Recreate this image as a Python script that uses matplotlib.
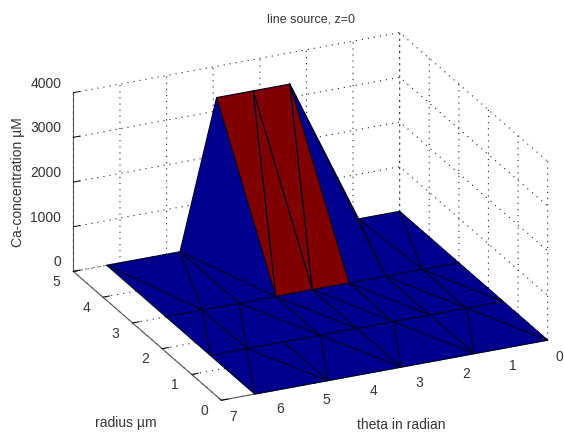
import numpy as np
import matplotlib
matplotlib.use('Agg')
import matplotlib.pyplot as plt
from mpl_toolkits.mplot3d import proj3d

plt.rcParams['font.family'] = ['Liberation Sans', 'DejaVu Sans']

# mesh nodes
# r=0 row, r=1.5 row, r=3 row, r=5 row
theta = [0.0, 1.571, 3.142, 4.712, 6.283,
         0.0, 0.785, 1.571, 2.356, 3.142, 3.927, 4.712, 5.498, 6.283,
         0.0, 0.785, 1.571, 2.356, 3.142, 3.927, 4.712, 5.498, 6.283,
         0.0, 0.88, 2.356, 3.142, 3.927, 4.712, 6.283]
radius = [0, 0, 0, 0, 0,
          1.5, 1.5, 1.5, 1.5, 1.5, 1.5, 1.5, 1.5, 1.5,
          3, 3, 3, 3, 3, 3, 3, 3, 3,
          5, 5, 5, 5, 5, 5, 5]
conc = [0, 0, 0, 0, 0,
        0, 0, 0, 0, 0, 0, 0, 0, 0,
        0, 0, 0, 0, 0, 0, 0, 0, 0,
        0, 0, 3300, 3300, 3300, 0, 0]

# triangles, node numbers
tris_floor = [
    (4, 13, 12), (4, 12, 3), (3, 12, 11), (3, 11, 10), (3, 10, 2),
    (2, 10, 9), (2, 9, 8), (2, 8, 1), (1, 8, 7), (1, 7, 6), (1, 6, 0), (0, 6, 5),
    (22, 21, 13), (21, 13, 12), (21, 20, 12), (20, 12, 10), (20, 19, 10),
    (19, 10, 9), (19, 18, 9), (18, 9, 8), (18, 17, 8), (17, 8, 7),
    (17, 16, 7), (16, 7, 6), (16, 15, 6), (15, 6, 5), (15, 14, 5),
    (29, 28, 21), (29, 21, 22), (28, 21, 20), (28, 20, 19),
    (24, 16, 15), (23, 24, 15), (23, 15, 14),
    (28, 19, 27), (25, 17, 16), (25, 16, 24),
]
tris_peak = [(19, 27, 26), (19, 26, 18), (18, 26, 25), (18, 25, 17)]

xticks = [0, 1, 2, 3, 4, 5, 6, 7]
yticks = [0, 1, 2, 3, 4, 5]
zticks = [0, 1000, 2000, 3000, 4000]

blue = '#00008f'
red = '#800000'
txt = '#333333'

fig = plt.figure(figsize=(5.64, 4.37), dpi=100)
ax = fig.add_axes([40.9 / 564, -49 / 437, 525 / 564, 525 / 437], projection='3d', proj_type='ortho')
ax.patch.set_alpha(0)
ax.view_init(elev=23.6, azim=-114.7)
ax.set_box_aspect((359, 354, 195))

surf = ax.plot_trisurf(theta, radius, conc, triangles=tris_floor + tris_peak,
                       color=blue, edgecolor='#000028', linewidth=0.8, shade=False, antialiased=True)
surf.set_facecolor([blue] * len(tris_floor) + [red] * len(tris_peak))

ax.set_xlim(7, 0, view_margin=0)
ax.set_ylim(0, 5, view_margin=0)
ax.set_zlim(0, 4000, view_margin=0)
ax.set_xticks(xticks)
ax.set_yticks(yticks)
ax.set_zticks(zticks)

for axis in (ax.xaxis, ax.yaxis, ax.zaxis):
    axis.set_pane_color((1, 1, 1, 0))
    axis.pane.set_edgecolor((1, 1, 1, 0))
    axis.line.set_color('#555555')
    axis.line.set_linewidth(0.8)
    axis._axinfo['grid'].update(color='#222222', linestyle=(0, (1, 4.5)), linewidth=0.8)
    axis._axinfo['tick']['inward_factor'] = 0.0
    axis._axinfo['tick']['outward_factor'] = 0.25
    axis._axinfo['tick']['linewidth'] = {True: 0.7, False: 0.7}
    axis._axinfo['tick']['color'] = '#333333'
    axis.label.set_visible(False)
    axis.offsetText.set_visible(False)
    for tick in axis.get_major_ticks():
        tick.label1.set_visible(False)
        tick.label2.set_visible(False)

# tick labels placed by hand, the automatic ones sit too low
M = ax.get_proj()

def tick_text(x, y, z, s, ha='center'):
    px, py, _ = proj3d.proj_transform(x, y, z, M)
    ax.text2D(px, py, s, transform=ax.transData, ha=ha, va='center', fontsize=10, color=txt)

for t in xticks:
    tick_text(t, -0.4, -150, str(t))
for r in yticks:
    tick_text(7.36, r, -170, str(r))
for z in zticks:
    tick_text(7.26, 5, z + 250, str(z), ha='right')

fig.text(311 / 564, 1 - 19 / 437, 'line source, z=0', ha='center', va='center', fontsize=9, color=txt)
fig.text(401 / 564, 1 - 425 / 437, 'theta in radian', ha='center', va='center', fontsize=10, color=txt)
fig.text(126 / 564, 1 - 423 / 437, 'radius \u00b5m', ha='center', va='center', fontsize=10, color=txt)
fig.text(18 / 564, 1 - 182 / 437, 'Ca-concentration \u00b5M', ha='center', va='center', rotation=90, fontsize=10, color=txt)

fig.savefig('out.png', dpi=100, facecolor='white')
